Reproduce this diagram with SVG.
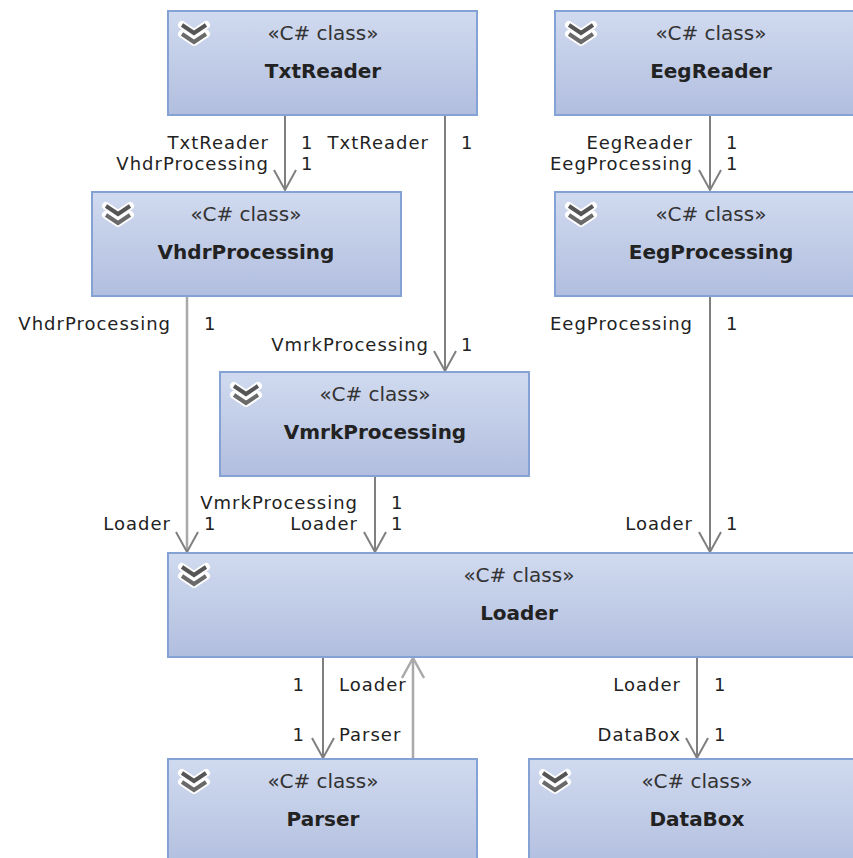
<svg xmlns="http://www.w3.org/2000/svg" width="853" height="858" viewBox="0 0 853 858">
<style>
.box{fill:url(#g);stroke:#84a3d4;stroke-width:2}
.st{font-family:"DejaVu Sans",Verdana,sans-serif;font-size:20px;fill:#333;text-anchor:middle}
.nm{font-family:"DejaVu Sans",Verdana,sans-serif;font-size:20px;font-weight:bold;fill:#222;text-anchor:middle}
.lb{font-family:"DejaVu Sans",Verdana,sans-serif;font-size:18px;letter-spacing:1px;fill:#222}
.r{text-anchor:end}
.ln{stroke:#7f7f7f;stroke-width:2;fill:none}
.ln2{stroke:#a9a9a9;stroke-width:2.5;fill:none}
</style>
<defs>
<linearGradient id="g" x1="0" y1="0" x2="0" y2="1">
<stop offset="0" stop-color="#d0daef"/>
<stop offset="1" stop-color="#b2bedf"/>
</linearGradient>
<g id="chev">
<polyline points="0,0 12,8 24,0" fill="none" stroke="#fff" stroke-width="8" stroke-linejoin="round" stroke-linecap="round"/>
<polyline points="0,9 12,17 24,9" fill="none" stroke="#fff" stroke-width="8" stroke-linejoin="round" stroke-linecap="round"/>
<polyline points="0,0 12,8 24,0" fill="none" stroke="#555" stroke-width="4"/>
<polyline points="0,9 12,17 24,9" fill="none" stroke="#6a6a6a" stroke-width="4"/>
</g>
</defs>
<rect width="853" height="858" fill="#fff"/>

<g id="connectors">
<line class="ln" x1="285" y1="116" x2="285" y2="190"/>
<polyline class="ln" points="274,170 285,190 296,170"/>
<line class="ln" x1="445" y1="116" x2="445" y2="371"/>
<polyline class="ln" points="434,351 445,371 456,351"/>
<line class="ln" x1="710" y1="116" x2="710" y2="190"/>
<polyline class="ln" points="699,170 710,190 721,170"/>
<line class="ln2" x1="187" y1="297" x2="187" y2="552"/>
<polyline class="ln" points="176,532 187,552 198,532"/>
<line class="ln" x1="375" y1="477" x2="375" y2="552"/>
<polyline class="ln" points="364,532 375,552 386,532"/>
<line class="ln" x1="710" y1="297" x2="710" y2="552"/>
<polyline class="ln" points="699,532 710,552 721,532"/>
<line class="ln" x1="323" y1="658" x2="323" y2="758"/>
<polyline class="ln" points="312,738 323,758 334,738"/>
<line class="ln2" x1="413" y1="758" x2="413" y2="658"/>
<polyline class="ln2" points="402,678 413,658 424,678"/>
<line class="ln" x1="697" y1="658" x2="697" y2="758"/>
<polyline class="ln" points="686,738 697,758 708,738"/>

<text class="lb r" x="269" y="149">TxtReader</text>
<text class="lb r" x="269" y="170">VhdrProcessing</text>
<text class="lb" x="301" y="149">1</text>
<text class="lb" x="301" y="170">1</text>
<text class="lb r" x="429" y="149">TxtReader</text>
<text class="lb" x="461" y="149">1</text>
<text class="lb r" x="429" y="351">VmrkProcessing</text>
<text class="lb" x="461" y="351">1</text>
<text class="lb r" x="693" y="149">EegReader</text>
<text class="lb r" x="693" y="170">EegProcessing</text>
<text class="lb" x="726" y="149">1</text>
<text class="lb" x="726" y="170">1</text>
<text class="lb r" x="171" y="330">VhdrProcessing</text>
<text class="lb" x="204" y="330">1</text>
<text class="lb r" x="171" y="530">Loader</text>
<text class="lb" x="204" y="530">1</text>
<text class="lb r" x="358" y="509">VmrkProcessing</text>
<text class="lb r" x="358" y="530">Loader</text>
<text class="lb" x="391" y="509">1</text>
<text class="lb" x="391" y="530">1</text>
<text class="lb r" x="693" y="330">EegProcessing</text>
<text class="lb" x="726" y="330">1</text>
<text class="lb r" x="693" y="530">Loader</text>
<text class="lb" x="726" y="530">1</text>
<text class="lb r" x="305" y="691">1</text>
<text class="lb" x="339" y="691">Loader</text>
<text class="lb r" x="305" y="741">1</text>
<text class="lb" x="339" y="741">Parser</text>
<text class="lb r" x="681" y="691">Loader</text>
<text class="lb" x="714" y="691">1</text>
<text class="lb r" x="681" y="741">DataBox</text>
<text class="lb" x="714" y="741">1</text>
</g>

<g id="TxtReader">
<rect class="box" x="168" y="11" width="309" height="104"/>
<use href="#chev" x="182" y="25"/>
<text class="st" x="323" y="40">«C# class»</text>
<text class="nm" x="323" y="78">TxtReader</text>
</g>
<g id="EegReader">
<rect class="box" x="555" y="11" width="312" height="104"/>
<use href="#chev" x="569" y="25"/>
<text class="st" x="711" y="40">«C# class»</text>
<text class="nm" x="711" y="78">EegReader</text>
</g>
<g id="VhdrProcessing">
<rect class="box" x="92" y="192" width="309" height="104"/>
<use href="#chev" x="106" y="206"/>
<text class="st" x="246" y="221">«C# class»</text>
<text class="nm" x="246" y="259">VhdrProcessing</text>
</g>
<g id="EegProcessing">
<rect class="box" x="555" y="192" width="312" height="104"/>
<use href="#chev" x="569" y="206"/>
<text class="st" x="711" y="221">«C# class»</text>
<text class="nm" x="711" y="259">EegProcessing</text>
</g>
<g id="VmrkProcessing">
<rect class="box" x="220" y="372" width="309" height="104"/>
<use href="#chev" x="234" y="386"/>
<text class="st" x="375" y="401">«C# class»</text>
<text class="nm" x="375" y="439">VmrkProcessing</text>
</g>
<g id="Loader">
<rect class="box" x="168" y="553" width="702" height="104"/>
<use href="#chev" x="182" y="567"/>
<text class="st" x="519" y="582">«C# class»</text>
<text class="nm" x="519" y="620">Loader</text>
</g>
<g id="Parser">
<rect class="box" x="168" y="759" width="309" height="110"/>
<use href="#chev" x="182" y="773"/>
<text class="st" x="323" y="788">«C# class»</text>
<text class="nm" x="323" y="826">Parser</text>
</g>
<g id="DataBox">
<rect class="box" x="529" y="759" width="336" height="110"/>
<use href="#chev" x="543" y="773"/>
<text class="st" x="697" y="788">«C# class»</text>
<text class="nm" x="697" y="826">DataBox</text>
</g>
</svg>
